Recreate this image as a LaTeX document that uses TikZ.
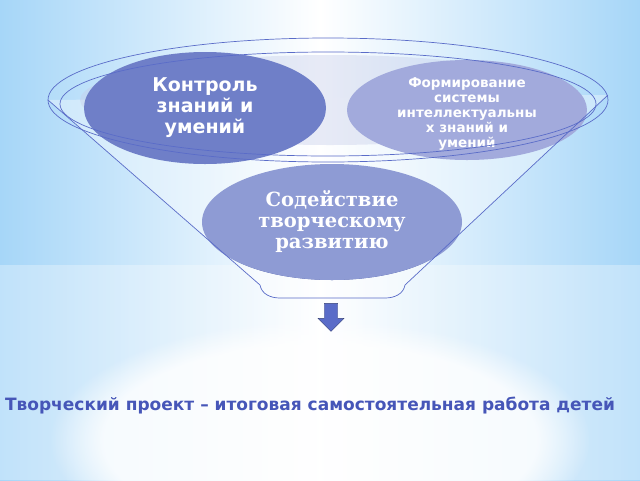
\documentclass[tikz,border=0pt]{standalone}
\usepackage{fontspec}
\setmainfont{DejaVu Sans}
\newfontfamily\serifb{DejaVu Serif}
\usetikzlibrary{shapes.arrows,shapes.geometric,fadings}
\definecolor{bgblue}{HTML}{A6D6F8}
\definecolor{elA}{HTML}{6F7FC8}
\definecolor{elB}{HTML}{A2AADC}
\definecolor{elC}{HTML}{8E9BD4}
\definecolor{lineC}{HTML}{5A6CC8}
\definecolor{txtC}{HTML}{4656B8}
\begin{document}
\begin{tikzpicture}[x=1pt,y=-1pt,
  bubble/.style={ellipse,inner sep=0pt,text=white,align=center,font=\bfseries},
  rim/.style={draw=lineC,line width=0.7pt}]
\useasboundingbox (0,0) rectangle (640,480);
\shade[left color=bgblue,right color=bgblue,middle color=white] (0,0) rectangle (640,480);
\fill[white,opacity=0.3] (0,265) rectangle (640,480);
\fill[white,path fading=circle with fuzzy edge 20 percent,opacity=0.8] (320,440) ellipse (270 and 120);
% funnel interior
\fill[white,opacity=0.35] (48,100) -- (260,285) to[out=-80,in=180] (280,298) -- (385,298) to[out=0,in=-100] (405,285) -- (608,95) -- cycle;
\fill[elA!40,opacity=0.4] (330,100) ellipse (250 and 45);
% ellipses
\node[bubble,fill=elA,minimum width=242,minimum height=112,font=\bfseries\fontsize{19}{21}\selectfont] (k) at (205,108) {Контроль\\знаний и\\умений};
\node[bubble,fill=elB,minimum width=240,minimum height=100] (f) at (467,110) {};
\node[text=white,align=center,font=\bfseries\fontsize{13.5}{15}\selectfont] (ft) at (467,114) {Формирование\\системы\\интеллектуальны\\х знаний и\\умений};
\fill[lineC!85!black] (332,230) ellipse (122 and 50);
\node[bubble,fill=elC,minimum width=260,minimum height=116,font=\serifb\bfseries\fontsize{19.5}{21}\selectfont] (s) at (332,222) {Содействие\\творческому\\развитию};
% funnel outlines
\draw[rim] (328,100) ellipse (280 and 62);
\draw[rim] (328,104) ellipse (268 and 52);
\draw[rim] (48,100) -- (260,285) to[out=-80,in=180] (280,298) -- (385,298) to[out=0,in=-100] (405,285) -- (608,95);
% arrow
\node[single arrow,shape border rotate=270,fill=lineC,draw=lineC!60!black,minimum height=28,minimum width=26,single arrow head extend=3,inner sep=3pt] (ar) at (331,314) {};
\node[text=txtC,font=\bfseries\fontsize{17}{19}\selectfont] (t) at (310,406) {Творческий проект – итоговая самостоятельная работа детей};
\end{tikzpicture}
\end{document}
